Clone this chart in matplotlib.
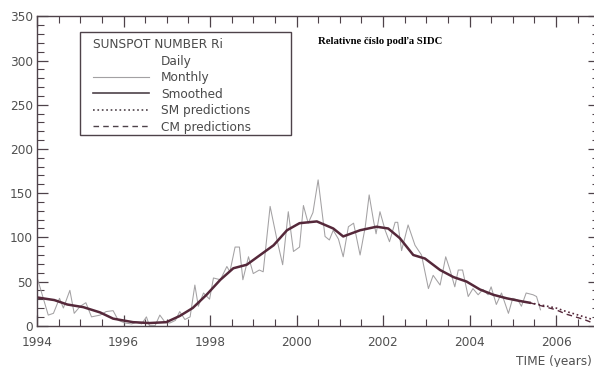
import matplotlib.pyplot as plt
from matplotlib.lines import Line2D
from matplotlib.patches import Rectangle
from matplotlib.ticker import MultipleLocator

# monthly sunspot numbers
month_t = [1994.00, 1994.26, 1994.38, 1994.52, 1994.61, 1994.76, 1994.86, 1995.00,
           1995.13, 1995.26, 1995.46, 1995.60, 1995.76, 1995.88, 1996.04, 1996.19,
           1996.30, 1996.42, 1996.53, 1996.60, 1996.73, 1996.84, 1996.96, 1997.07,
           1997.20, 1997.30, 1997.42, 1997.54, 1997.65, 1997.73, 1997.85, 1997.99,
           1998.08, 1998.24, 1998.39, 1998.46, 1998.58, 1998.68, 1998.76, 1998.89,
           1999.00, 1999.14, 1999.23, 1999.39, 1999.55, 1999.68, 1999.81, 1999.93,
           2000.07, 2000.16, 2000.27, 2000.38, 2000.50, 2000.66, 2000.76, 2000.85,
           2000.97, 2001.08, 2001.20, 2001.32, 2001.47, 2001.59, 2001.68, 2001.78,
           2001.84, 2001.93, 2002.05, 2002.15, 2002.28, 2002.34, 2002.43, 2002.58,
           2002.74, 2002.89, 2003.05, 2003.16, 2003.32, 2003.45, 2003.55, 2003.66,
           2003.74, 2003.84, 2003.97, 2004.08, 2004.20, 2004.31, 2004.43, 2004.50,
           2004.62, 2004.74, 2004.90, 2005.00, 2005.12, 2005.20, 2005.31, 2005.47,
           2005.55, 2005.64]
month_r = [55, 12, 14, 31, 20, 40, 14, 22,
           26, 10, 12, 16, 17, 6, 3, 2,
           4, 2, 10, 0, 0, 12, 4, 3,
           6, 16, 7, 10, 46, 22, 37, 30,
           54, 52, 67, 61, 89, 89, 52, 78,
           59, 63, 61, 135, 97, 69, 129, 84,
           89, 136, 116, 128, 165, 101, 97, 108,
           98, 78, 112, 116, 80, 112, 148, 119,
           104, 129, 108, 95, 117, 117, 85, 114,
           91, 80, 42, 57, 46, 78, 63, 44,
           63, 63, 33, 42, 35, 41, 35, 44,
           24, 37, 14, 31, 29, 22, 37, 35,
           33, 18]

# 13-month smoothed
smooth_t = [1994.00, 1994.40, 1994.70, 1995.07, 1995.46, 1995.76, 1996.22, 1996.60,
            1996.99, 1997.30, 1997.60, 1997.92, 1998.24, 1998.54, 1998.85, 1999.16,
            1999.47, 1999.78, 2000.07, 2000.47, 2000.85, 2001.08, 2001.47, 2001.85,
            2002.12, 2002.39, 2002.70, 2002.97, 2003.32, 2003.63, 2003.93, 2004.24,
            2004.55, 2004.86, 2005.16, 2005.39]
smooth_r = [32, 29, 24, 21, 15, 8, 4, 3,
            4, 11, 20, 35, 52, 65, 69, 80,
            91, 108, 116, 118, 110, 101, 108, 112,
            110, 99, 80, 76, 63, 55, 50, 41,
            35, 31, 28, 26]

# predictions
sm_t = [2005.39, 2005.70, 2006.00, 2006.24, 2006.45, 2006.65, 2006.85]
sm_r = [26, 23, 20, 16, 13, 10, 7]
cm_t = [2005.39, 2005.70, 2006.00, 2006.24, 2006.45, 2006.65, 2006.86]
cm_r = [26, 22, 18, 13, 10, 7, 3]

ink = "#4e4249"
grey = "#a3a1a3"
dark = "#55283a"
W, H = 594, 367

fig = plt.figure(figsize=(W / 100, H / 100), dpi=100)
ax = fig.add_axes([37 / W, 41.3 / H, 562.25 / W, 309.3 / H])

ax.plot(month_t, month_r, color=grey, lw=0.75)
ax.plot(smooth_t, smooth_r, color=dark, lw=1.8)
ax.plot(sm_t, sm_r, color=dark, lw=1.2, ls=":")
ax.plot(cm_t, cm_r, color=dark, lw=1.0, ls=(0, (4, 3)))

ax.set_xlim(1994, 2007)
ax.set_ylim(0, 350)
ax.xaxis.set_major_locator(MultipleLocator(2))
ax.xaxis.set_minor_locator(MultipleLocator(0.5))
ax.yaxis.set_major_locator(MultipleLocator(50))
ax.yaxis.set_minor_locator(MultipleLocator(10))
ax.tick_params(which="both", direction="in", top=True, right=True,
               color=ink, labelcolor="#505050", labelsize=8.7)
ax.tick_params(which="major", length=8, width=0.9)
ax.tick_params(which="minor", length=5, width=0.8)
ax.tick_params(axis="x", pad=7.5)
ax.tick_params(axis="y", pad=3)
for s in ax.spines.values():
    s.set_color(ink)
    s.set_linewidth(1.0)

# legend box (drawn separately, the scan has a wide right margin)
box = Rectangle((80 / W, 1 - 135 / H), 211 / W, 103 / H, transform=fig.transFigure,
                facecolor="white", edgecolor=ink, lw=1.0, zorder=4, clip_on=False)
ax.add_patch(box)

handles = [Line2D([], [], color="none"),
           Line2D([], [], color=grey, lw=0.8),
           Line2D([], [], color=ink, lw=1.2),
           Line2D([], [], color=ink, lw=1.2, ls=":"),
           Line2D([], [], color=ink, lw=1.0, ls=(0, (4, 3)))]
labels = ["Daily", "Monthly", "Smoothed", "SM predictions", "CM predictions"]
leg = ax.legend(handles, labels, title="SUNSPOT NUMBER Ri", loc="upper left",
                bbox_to_anchor=(81 / W, 1 - 26 / H), bbox_transform=fig.transFigure,
                fontsize=8.7, title_fontsize=8.7, handlelength=4.6,
                handletextpad=1.0, labelspacing=0.29, borderpad=0.5,
                frameon=False, alignment="left")
leg.set_zorder(6)
for t in leg.get_texts():
    t.set_color("#4a4a4a")
leg.get_title().set_color("#4a4a4a")

fig.text(318 / W, 1 - 42 / H, "Relativne číslo podľa SIDC",
         family="Liberation Serif", weight="bold", fontsize=7.7, va="center")
fig.text(0.997, 1 - 361 / H, "TIME (years)", ha="right", va="center",
         fontsize=8.7, color="#505050")

fig.savefig("out.png", dpi=100)
